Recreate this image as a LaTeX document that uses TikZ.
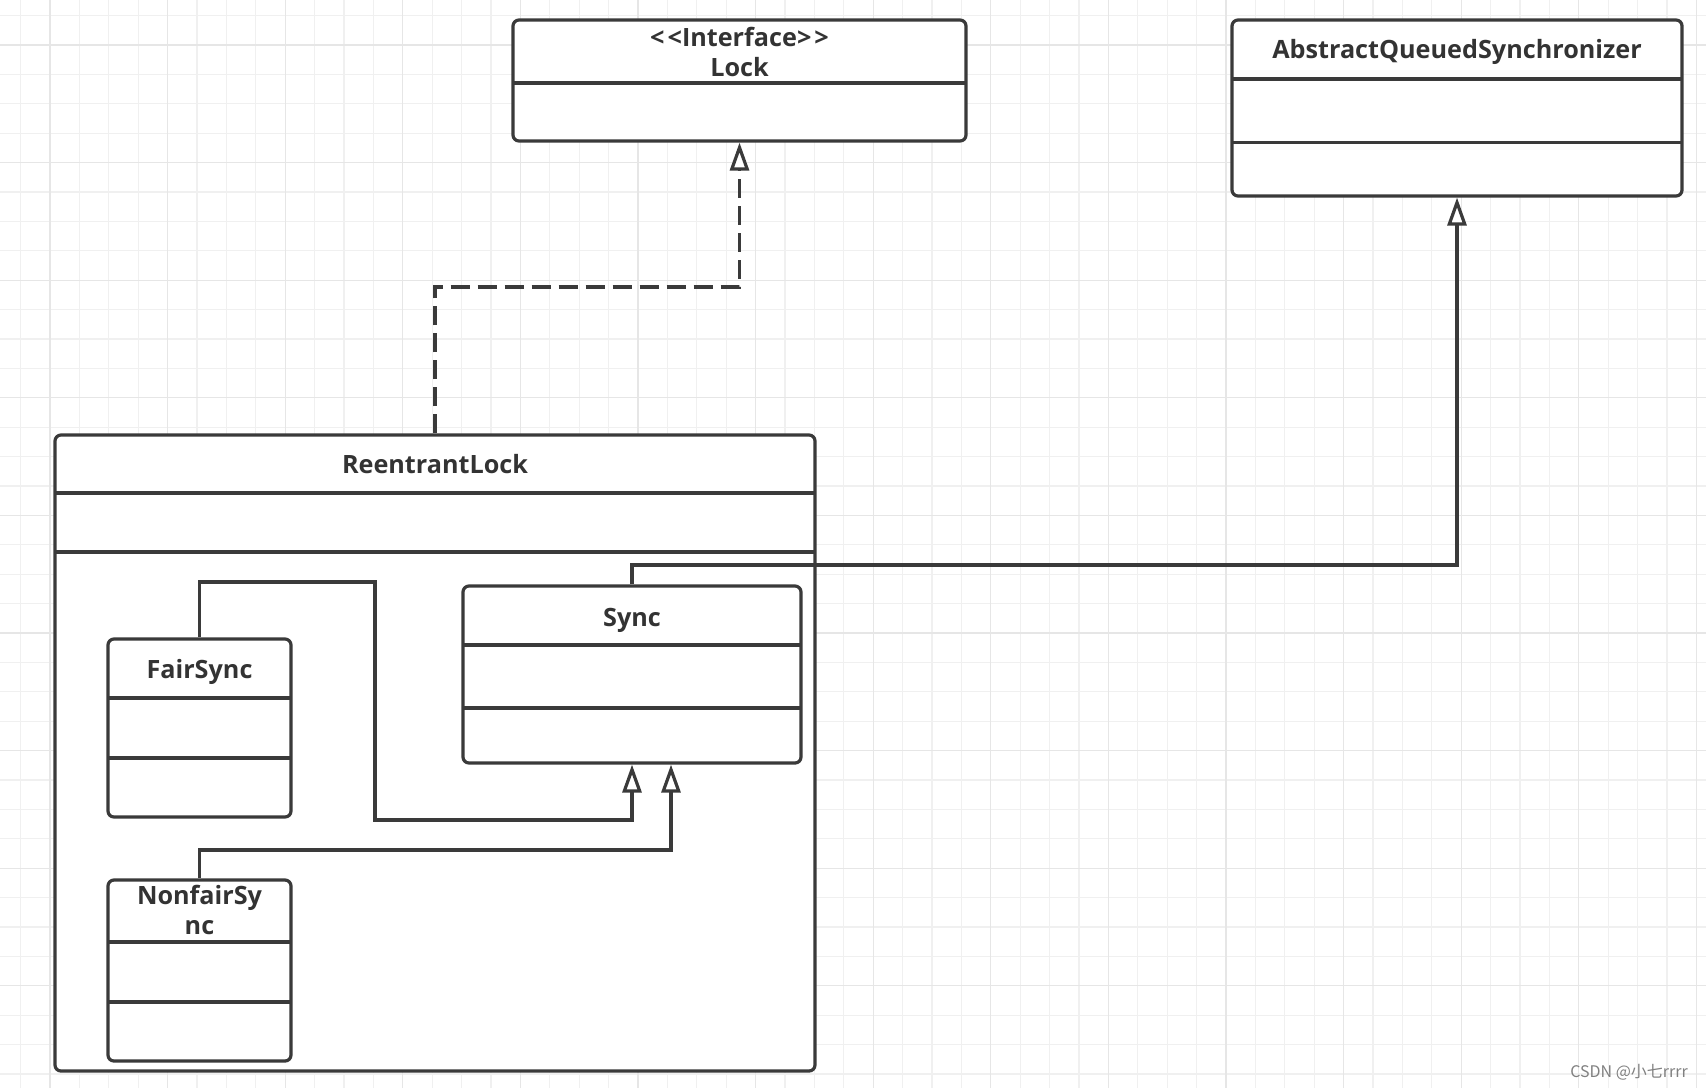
\documentclass[tikz,border=0pt]{standalone}
\usepackage{fontspec}
\setmainfont{Open Sans}
\newfontfamily\cjk{Noto Sans CJK SC}
\usetikzlibrary{arrows.meta,fit}

\definecolor{umlgray}{HTML}{3A3A3A}
\definecolor{umltext}{HTML}{333333}
\definecolor{gridminor}{HTML}{F0F0F0}
\definecolor{gridmajor}{HTML}{E6E6E6}

\begin{document}
\begin{tikzpicture}[x=0.5pt, y=-0.5pt,
    classbox/.style={draw=umlgray, line width=1.6pt, fill=white, rounded corners=3pt, inner sep=0pt},
    divider/.style={draw=umlgray, line width=1.6pt},
    classname/.style={text=umltext, align=center, font=\bfseries\fontsize{12.6}{15}\selectfont},
    inherit/.style={draw=umlgray, line width=1.6pt, -{Triangle[fill=white, length=14pt, width=9.5pt]}},
    realize/.style={inherit, dash pattern=on 9.5pt off 4pt}]

    % page and grid
    \useasboundingbox (0,0) rectangle (1706,1088);
    \fill[white] (0,0) rectangle (1706,1088);
    \foreach \k in {-1,...,56}
        \draw[gridminor, line width=0.6pt] ({50+\k*29.4},0) -- ({50+\k*29.4},1088);
    \foreach \k in {-1,...,35}
        \draw[gridminor, line width=0.6pt] (0,{45+\k*29.4}) -- (1706,{45+\k*29.4});
    \foreach \k in {0,...,14}
        \draw[gridmajor, line width=0.6pt] ({50+\k*117.6},0) -- ({50+\k*117.6},1088);
    \foreach \k in {0,...,8}
        \draw[gridmajor, line width=0.6pt] (0,{45+\k*117.6}) -- (1706,{45+\k*117.6});

    % Lock interface
    \node[classbox, fit={(513,20) (966,141)}] (lock) {};
    \draw[divider] (513,83) -- (966,83);
    \node[classname] (lockname) at (739.5,52) {<\kern1.5pt<Interface>\kern1.5pt>\\Lock};

    % AbstractQueuedSynchronizer
    \node[classbox, fit={(1232,20) (1682,196)}] (aqs) {};
    \draw[divider] (1232,79) -- (1682,79);
    \draw[divider] (1232,142.5) -- (1682,142.5);
    \node[classname] (aqsname) at (1457,52) {AbstractQueuedSynchronizer};

    % ReentrantLock (outer box)
    \node[classbox, fit={(55,435) (815,1071)}] (rlock) {};
    \draw[divider] (55,493) -- (815,493);
    \draw[divider] (55,552) -- (815,552);
    \node[classname] (rlockname) at (435,464) {ReentrantLock};

    % Sync
    \node[classbox, fit={(463,586) (801,763)}] (sync) {};
    \draw[divider] (463,645) -- (801,645);
    \draw[divider] (463,708) -- (801,708);
    \node[classname] (syncname) at (632,620) {Sync};

    % FairSync
    \node[classbox, fit={(108,639) (291,817)}] (fair) {};
    \draw[divider] (108,698) -- (291,698);
    \draw[divider] (108,758) -- (291,758);
    \node[classname] (fairname) at (199.5,672) {FairSync};

    % NonfairSync
    \node[classbox, fit={(108,880) (291,1061)}] (nonfair) {};
    \draw[divider] (108,942) -- (291,942);
    \draw[divider] (108,1002) -- (291,1002);
    \node[classname] (nonfairname) at (199.5,910) {NonfairSy\\nc};

    % bends of the connectors
    \coordinate (bendA) at (600,287);
    \coordinate (bendB) at (1000,565);
    \coordinate (fairA) at (375,582);
    \coordinate (fairB) at (375,820);
    \coordinate (nfA) at (671,850);

    % Draw the connectors
    \draw[realize] (rlock.north) |- (bendA) -| (lock.south);
    \draw[inherit] (sync.north) |- (bendB) -| (aqs.south);
    \draw[inherit] (fair.north) |- (fairA) -- (fairB) -| (sync.south);
    \draw[inherit] (nonfair.north) |- (nfA) -- (nfA |- sync.south);

    % watermark
    \node[text=black!50, font=\cjk\fontsize{8}{9}\selectfont] (mark) at (1629,1072) {CSDN @小七rrrr};

\end{tikzpicture}
\end{document}
